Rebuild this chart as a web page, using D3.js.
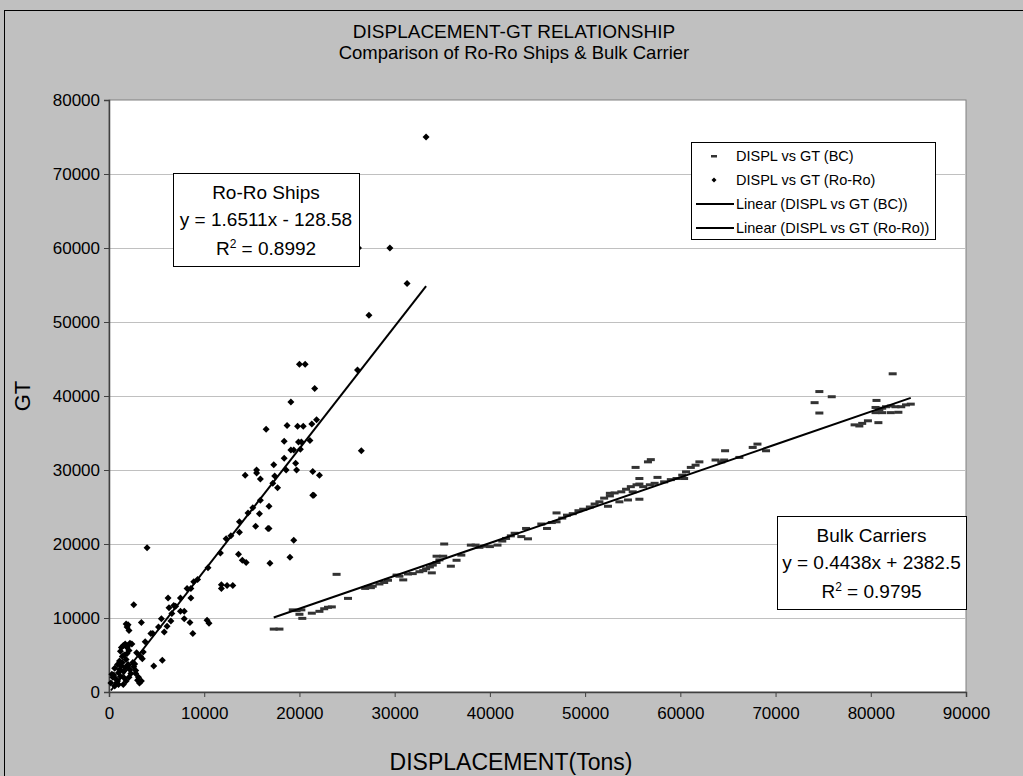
<!DOCTYPE html>
<html>
<head>
<meta charset="utf-8">
<script src="https://cdn.jsdelivr.net/npm/d3@7"></script>
<style>
  body { margin: 0; background: #c0c0c0; }
  svg { display: block; background: #c0c0c0; }
  text { font-family: "Liberation Sans", Arial, sans-serif; fill: #000; }
</style>
</head>
<body>
<div id="chart"></div>
<script>
// Ro-Ro ships: [displacement, GT]
const roroData = [
  [300,2400],[500,2300],[700,1800],[800,1200],[900,1500],[1000,2600],[1100,3000],[1200,2100],[1300,3500],[1400,4000],
  [1500,2800],[1600,1900],[1700,3300],[1800,4400],[1900,5200],[1900,6000],[2000,6300],[2100,5600],[2200,6600],[2400,6500],
  [2500,4000],[2600,3400],[2700,3800],[2800,2900],[1200,5500],[1300,6000],[1500,6300],[1700,6500],[2000,3700],[2200,3000],
  [2300,2500],[2100,2000],[1800,1500],[1000,1000],[600,800],[1500,1000],[2800,2500],[3000,1600],[3200,1200],[3400,1500],
  [3100,2000],[3300,4800],[3500,4500],[3600,5400],[2900,5300],[1400,4800],[1600,5000],[1100,4200],[900,3700],[600,3200],
  [400,2000],[200,1200],[3800,6800],[4400,7900],[4600,7900],[5200,8800],[2000,9100],[1900,8800],[2100,8300],[1800,9200],
  [2600,11800],[3400,9400],[4000,19500],[4700,3500],[5600,4300],[5500,9900],[5800,8100],[6100,8900],[6300,11400],[6200,12700],
  [6600,10600],[6500,9600],[6800,11700],[7000,11600],[7500,12700],[7500,10900],[7900,10900],[7900,9900],[8200,14000],[8600,14000],
  [8600,12700],[8500,9400],[8800,7900],[8900,14900],[9300,15200],[10300,9700],[10500,9300],[10400,16800],[11700,18800],[11800,14500],
  [11800,14000],[12400,14400],[13000,14400],[12300,20700],[12800,21100],[13700,21600],[13600,18600],[13700,23000],[14000,17800],[14400,17500],
  [14300,29300],[14600,24200],[15100,24900],[15400,22400],[15500,30000],[15500,29600],[15800,24100],[15900,25900],[15900,28800],[16500,35500],
  [16700,22100],[16800,22100],[16800,25100],[16900,17400],[17200,28200],[17300,30700],[17400,29200],[17700,27600],[18400,33900],[18400,31600],
  [18600,30000],[18700,36000],[19000,18200],[19100,39200],[19100,32700],[19400,32700],[19400,20500],[19600,30900],[19700,30000],[19800,35900],
  [19900,33800],[20100,32800],[20200,33800],[20400,35900],[20000,44300],[20600,44300],[21100,34000],[21300,36200],[21400,29800],[21400,26600],
  [21500,26600],[21600,41000],[21800,36800],[22100,29300],[26100,43500],[26500,32600],[27300,50900],[26200,60000],[29500,60000],[31300,55200],
  [33300,75000]
];

// Bulk carriers: [displacement, GT]
const bcData = [
  [17300,8500],[17900,8500],[19300,11100],[19700,11000],[20200,11100],[20000,10500],[20300,9950],[21300,10650],[22100,10900],[22600,11250],
  [23000,11450],[23400,11500],[23900,15900],[25100,12650],[26900,14000],[27200,14200],[27500,14100],[27700,14300],[28400,14600],[28900,14800],
  [29300,15100],[30200,15800],[30500,15650],[30900,15150],[31400,15950],[31900,16000],[32600,16250],[33000,16400],[33300,16650],[33700,16900],
  [34000,17150],[34400,17500],[34700,17850],[34400,18350],[35100,18350],[33900,16100],[35200,20000],[35900,17000],[36500,17800],[37000,18500],
  [38000,19850],[38500,19850],[38900,19550],[39400,19700],[40000,19650],[40800,19850],[41300,20400],[41700,20750],[42200,21100],[42600,21450],
  [43300,21000],[44000,20700],[43800,22100],[45400,22700],[46000,22100],[46500,22900],[47000,23000],[47000,24200],[47600,23500],[48100,23900],
  [48700,24100],[49300,24500],[49800,24700],[50500,25000],[51000,25400],[51500,25700],[52000,26200],[52400,25100],[52600,26500],[52600,26850],
  [53100,26900],[53600,25700],[53800,27050],[54300,27400],[54500,25950],[54800,27750],[55000,27050],[55400,28000],[55300,30350],[55700,28100],
  [55700,28850],[55700,26050],[56100,27750],[56600,31100],[56900,31400],[56800,28000],[57300,28200],[57600,29000],[58300,28400],[59000,28700],
  [59600,28850],[60200,29300],[60400,28850],[60600,29750],[61100,30350],[61600,30650],[62000,31100],[63700,31350],[64300,31100],[64600,31350],
  [64700,32600],[66200,31700],[67600,33050],[68100,33500],[69000,32600],[74100,39100],[74600,40600],[74600,37700],[75900,39900],[78300,36100],
  [78800,35950],[79100,36300],[79700,36650],[80500,38450],[80500,37750],[80600,39400],[80800,36400],[80900,38100],[81200,38350],[81200,37750],
  [81600,38550],[82100,38650],[82100,37750],[82300,43000],[82600,38550],[82900,37800],[83200,38550],[83700,38800],[84200,38900]
];

// trend line coefficients (slope, intercept)
const roroFit = { slope: 1.6511, intercept: -128.58 };
const bcFit = { slope: 0.4438, intercept: 2382.5 };

const xTicks = [0,10000,20000,30000,40000,50000,60000,70000,80000,90000];
const yTicks = [0,10000,20000,30000,40000,50000,60000,70000,80000];

const legendItems = [
  "DISPL vs GT (BC)",
  "DISPL vs GT (Ro-Ro)",
  "Linear (DISPL vs GT (BC))",
  "Linear (DISPL vs GT (Ro-Ro))"
];
const roroLabel = ["Ro-Ro Ships", "y = 1.6511x - 128.58", "0.8992"];
const bcLabel = ["Bulk Carriers", "y = 0.4438x + 2382.5", "0.9795"];

const width = 1023, height = 776;
const plot = { left: 109, right: 966, top: 100, bottom: 692 };

const svg = d3.select("#chart").append("svg")
    .attr("width", width)
    .attr("height", height);

// chart background + border
svg.append("rect")
    .attr("x", 4.5).attr("y", 10.5)
    .attr("width", width + 10).attr("height", height + 10)
    .style("fill", "#c0c0c0")
    .style("stroke", "#000");

svg.append("rect")
    .attr("x", plot.left).attr("y", plot.top)
    .attr("width", plot.right - plot.left).attr("height", plot.bottom - plot.top)
    .style("fill", "#fff")
    .style("stroke", "#808080");

const x = d3.scaleLinear().domain([0, 90000]).range([plot.left, plot.right]);
const y = d3.scaleLinear().domain([0, 80000]).range([plot.bottom, plot.top]);

// gridlines
svg.append("g")
    .selectAll("line")
    .data(yTicks.filter(d => d > 0 && d < 80000))
    .enter().append("line")
    .attr("x1", plot.left).attr("x2", plot.right)
    .attr("y1", d => Math.round(y(d)) + 0.5).attr("y2", d => Math.round(y(d)) + 0.5)
    .attr("stroke", "#c0c0c0");

// axes
const xAxis = svg.append("g")
    .attr("transform", `translate(0,${plot.bottom})`)
    .call(d3.axisBottom(x).tickValues(xTicks).tickSize(5).tickPadding(10).tickFormat(d3.format("d")));
const yAxis = svg.append("g")
    .attr("transform", `translate(${plot.left},0)`)
    .call(d3.axisLeft(y).tickValues(yTicks).tickSize(5).tickPadding(4).tickFormat(d3.format("d")));

[xAxis, yAxis].forEach(a => {
    a.select(".domain").attr("stroke", "#404040").attr("stroke-width", 1.5);
    a.selectAll(".tick line").attr("stroke", "#404040");
    a.selectAll(".tick text")
        .attr("font-family", "Liberation Sans, Arial, sans-serif")
        .attr("font-size", "17px")
        .attr("fill", "#000");
});

// bulk carrier points (dash markers)
svg.append("g")
    .selectAll("rect")
    .data(bcData)
    .enter().append("rect")
    .attr("x", d => x(d[0]) - 4)
    .attr("y", d => y(d[1]) - 1.5)
    .attr("width", 8)
    .attr("height", 3)
    .attr("fill", "#333");

// ro-ro points (diamonds)
svg.append("g")
    .selectAll("path")
    .data(roroData)
    .enter().append("path")
    .attr("transform", d => `translate(${x(d[0])},${y(d[1])})`)
    .attr("d", "M0,-3.5L3.5,0L0,3.5L-3.5,0Z")
    .attr("fill", "#000");

// trend lines
function drawFit(fit, data) {
    const ext = d3.extent(data, d => d[0]);
    svg.append("line")
        .attr("x1", x(ext[0])).attr("y1", y(fit.slope * ext[0] + fit.intercept))
        .attr("x2", x(ext[1])).attr("y2", y(fit.slope * ext[1] + fit.intercept))
        .attr("stroke", "#000")
        .attr("stroke-width", 2);
}
drawFit(bcFit, bcData);
drawFit(roroFit, roroData);

// titles
svg.append("text")
    .attr("x", 514).attr("y", 38)
    .attr("text-anchor", "middle")
    .attr("font-size", "19px")
    .text("DISPLACEMENT-GT RELATIONSHIP");
svg.append("text")
    .attr("x", 514).attr("y", 59)
    .attr("text-anchor", "middle")
    .attr("font-size", "18.5px")
    .text("Comparison of Ro-Ro Ships & Bulk Carrier");

svg.append("text")
    .attr("x", 511).attr("y", 770)
    .attr("text-anchor", "middle")
    .attr("font-size", "23px")
    .text("DISPLACEMENT(Tons)");

svg.append("text")
    .attr("transform", `translate(30,${(plot.top + plot.bottom) / 2}) rotate(-90)`)
    .attr("text-anchor", "middle")
    .attr("font-size", "22px")
    .text("GT");

// legend
const legend = svg.append("g").attr("transform", "translate(691,142)");
legend.append("rect")
    .attr("x", 0.5).attr("y", 0.5)
    .attr("width", 244).attr("height", 97)
    .style("fill", "#fff")
    .style("stroke", "#000");

legendItems.forEach((label, i) => {
    const cy = 14 + i * 24;
    if (i === 0) {
        legend.append("rect")
            .attr("x", 20).attr("y", cy - 1)
            .attr("width", 6).attr("height", 2.5)
            .attr("fill", "#333");
    } else if (i === 1) {
        legend.append("path")
            .attr("transform", `translate(23,${cy})`)
            .attr("d", "M0,-2.5L2.5,0L0,2.5L-2.5,0Z")
            .attr("fill", "#000");
    } else {
        legend.append("line")
            .attr("x1", 5).attr("x2", 43)
            .attr("y1", cy).attr("y2", cy)
            .attr("stroke", "#000").attr("stroke-width", 2);
    }
    legend.append("text")
        .attr("x", 45).attr("y", cy + 5)
        .attr("font-size", "14.5px")
        .text(label);
});

// equation boxes
function labelBox(lines, bx, by, bw, bh) {
    const g = svg.append("g").attr("transform", `translate(${bx},${by})`);
    g.append("rect")
        .attr("x", 0.5).attr("y", 0.5)
        .attr("width", bw).attr("height", bh)
        .style("fill", "#fff")
        .style("stroke", "#000");
    const cx = bw / 2;
    g.append("text").attr("x", cx).attr("y", 26)
        .attr("text-anchor", "middle").attr("font-size", "19px").text(lines[0]);
    g.append("text").attr("x", cx).attr("y", 53)
        .attr("text-anchor", "middle").attr("font-size", "19px").text(lines[1]);
    const r = g.append("text").attr("x", cx).attr("y", 82)
        .attr("text-anchor", "middle").attr("font-size", "19px");
    r.append("tspan").text("R");
    r.append("tspan").attr("dy", -7).attr("font-size", "12px").text("2");
    r.append("tspan").attr("dy", 7).text(" = " + lines[2]);
}
labelBox(roroLabel, 173, 173, 186, 93);
labelBox(bcLabel, 777, 516, 189, 93);
</script>
</body>
</html>
